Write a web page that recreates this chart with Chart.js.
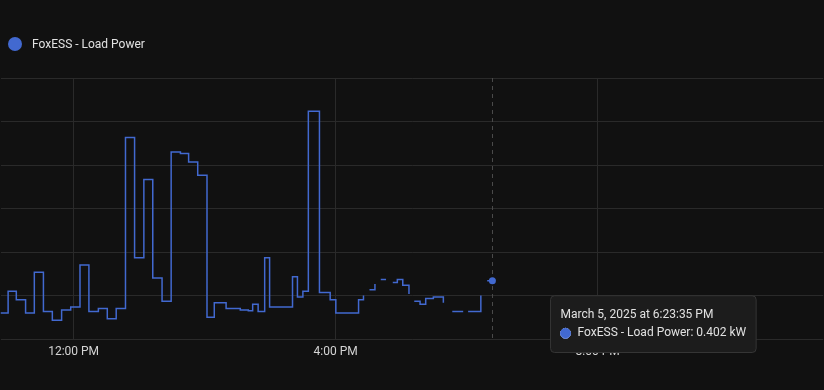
<!DOCTYPE html>
<html>
<head>
<meta charset="utf-8">
<title>FoxESS - Load Power</title>
<script src="https://cdn.jsdelivr.net/npm/chart.js@4.4.1/dist/chart.umd.min.js"></script>
<style>
    html, body { margin: 0; padding: 0; background: #111111; }
    body { width: 824px; height: 390px; overflow: hidden; position: relative; font-family: Roboto, sans-serif; }
    .chart-wrap { position: absolute; left: 0; top: 0; width: 824px; height: 390px; }
    .legend { position: absolute; left: 8px; top: 37px; height: 14px; display: flex; align-items: center;
              color: #e1e1e1; font-size: 12px; z-index: 2; }
    .legend .dot { width: 14px; height: 14px; border-radius: 50%; margin-right: 10px; }
</style>
</head>
<body>
<div class="chart-wrap"><canvas id="loadChart"></canvas></div>
<div class="legend"><span class="dot" id="legendDot"></span><span id="legendLabel"></span></div>
<script>
const seriesLabel = 'FoxESS - Load Power';
const seriesUnit = 'kW';
const dayLabel = 'March 5, 2025';
const lineColor = '#4269d0';

// sample times (local clock) and load power in kW, null = no data
const sampleTimes = [
    '10:50', '11:00', '11:07:30', '11:16', '11:24', '11:32:20', '11:40:30', '11:49', '11:57:20',
    '12:05:50', '12:14', '12:22:40', '12:30:50', '12:39', '12:47:30', '12:55:50', '13:04:20',
    '13:12:30', '13:21', '13:29:20', '13:37:50', '13:45:20', '13:53:40', '14:02:10', '14:08:50',
    '14:19:40', '14:32:40', '14:40', '14:44', '14:49', '14:55', '14:59:30', '15:20:30', '15:25',
    '15:30', '15:35', '15:45:10', '15:55', '16:00:10', '16:21', '16:25:30', '16:28', '16:31',
    '16:36', '16:39', '16:41:20', '16:46:10', '16:49', '16:52:20', '16:56:30', '17:01:30',
    '17:07:10', '17:10', '17:12', '17:17:20', '17:22:30', '17:29:30', '17:38:40', '17:42',
    '17:46:50', '17:56:50', '17:59', '18:01:20', '18:13', '18:16', '18:18:50', '18:23:35'
];
const loadValues = [
    0.18, 0.33, 0.27, 0.18, 0.46, 0.19, 0.13, 0.20, 0.22,
    0.51, 0.19, 0.21, 0.14, 0.21, 1.39, 0.56, 1.10,
    0.42, 0.26, 1.29, 1.28, 1.22, 1.13, 0.15, 0.25,
    0.21, 0.20, 0.195, 0.24, 0.19, 0.56, 0.22, 0.43, 0.29,
    0.33, 1.57, 0.32, 0.27, 0.18, 0.27, 0.30, null, 0.34,
    0.38, null, 0.41, 0.41, null, 0.39, 0.41, 0.37,
    0.31, null, 0.26, 0.24, 0.28, 0.29, 0.25, null,
    0.19, 0.19, null, 0.19, 0.30, null, 0.402, 0.402
];

const xTicks = [12, 16, 20];
const xTickLabels = ['12:00 PM', '4:00 PM', '8:00 PM'];
const yTicks = [0, 0.3, 0.6, 0.9, 1.2, 1.5, 1.8];

// visible window of the (cropped) history graph
const viewStart = '10:53:15';
const viewEnd = '23:26:38';
const hoverIndex = sampleTimes.length - 1;

function toHours(t) {
    const p = t.split(':').map(Number);
    return p[0] + p[1] / 60 + (p[2] || 0) / 3600;
}

function formatClock(hours) {
    const total = Math.round(hours * 3600);
    const h = Math.floor(total / 3600);
    const m = Math.floor((total % 3600) / 60);
    const s = total % 60;
    const h12 = h % 12 === 0 ? 12 : h % 12;
    return `${h12}:${String(m).padStart(2, '0')}:${String(s).padStart(2, '0')} ${h < 12 ? 'AM' : 'PM'}`;
}

document.getElementById('legendLabel').textContent = seriesLabel;
document.getElementById('legendDot').style.background = lineColor;

Chart.defaults.font.family = 'Roboto';
Chart.defaults.font.size = 12;
Chart.defaults.color = '#d4d4d4';

Chart.Tooltip.positioners.besidePoint = function(items) {
    if (!items.length) return false;
    const el = items[0].element;
    return { x: el.x + 62, y: el.y + 15 };
};

// dashed vertical pointer at the hovered sample
const hoverLine = {
    id: 'hoverLine',
    beforeDatasetsDraw(chart) {
        const active = chart.tooltip.getActiveElements();
        if (!active.length) return;
        const x = Math.round(active[0].element.x) + 0.5;
        const area = chart.chartArea;
        const ctx = chart.ctx;
        ctx.save();
        ctx.strokeStyle = '#4a4a4a';
        ctx.lineWidth = 1;
        ctx.setLineDash([4, 4]);
        ctx.beginPath();
        ctx.moveTo(x, area.top);
        ctx.lineTo(x, area.bottom);
        ctx.stroke();
        ctx.restore();
    }
};

const points = sampleTimes.map((t, i) => ({ x: toHours(t), y: loadValues[i] }));

const ctx = document.getElementById('loadChart').getContext('2d');
const loadChart = new Chart(ctx, {
    type: 'line',
    data: {
        datasets: [{
            label: seriesLabel,
            data: points,
            borderColor: lineColor,
            backgroundColor: lineColor,
            borderWidth: 1.5,
            stepped: 'before',
            tension: 0,
            pointRadius: 0,
            pointHoverRadius: 3.5,
            pointHoverBorderWidth: 0,
            pointHoverBackgroundColor: lineColor,
            spanGaps: false
        }]
    },
    options: {
        responsive: true,
        maintainAspectRatio: false,
        animation: false,
        events: [],
        layout: { padding: { top: 78, left: 0, right: 0, bottom: 24.6 } },
        plugins: {
            legend: { display: false },
            tooltip: {
                position: 'besidePoint',
                xAlign: 'left',
                yAlign: 'top',
                caretSize: 0,
                caretPadding: 0,
                backgroundColor: '#1c1c1c',
                borderColor: '#353535',
                borderWidth: 1,
                cornerRadius: 4,
                padding: { top: 12, bottom: 12, left: 10, right: 10 },
                titleFont: { size: 12, weight: 'normal' },
                bodyFont: { size: 12 },
                titleColor: '#e1e1e1',
                bodyColor: '#e1e1e1',
                titleMarginBottom: 4,
                usePointStyle: true,
                boxWidth: 10,
                boxHeight: 10,
                boxPadding: 5,
                callbacks: {
                    title: items => `${dayLabel} at ${formatClock(items[0].parsed.x)}`,
                    label: item => `${item.dataset.label}: ${item.parsed.y} ${seriesUnit}`
                }
            }
        },
        scales: {
            x: {
                type: 'linear',
                min: toHours(viewStart),
                max: toHours(viewEnd),
                afterBuildTicks: scale => { scale.ticks = xTicks.map(v => ({ value: v })); },
                ticks: {
                    padding: 6,
                    maxRotation: 0,
                    autoSkip: false,
                    callback: value => xTickLabels[xTicks.indexOf(value)]
                },
                grid: { color: '#2a2a2a', drawTicks: false },
                border: { display: false }
            },
            y: {
                min: 0,
                max: 1.8,
                afterBuildTicks: scale => { scale.ticks = yTicks.map(v => ({ value: v })); },
                ticks: { display: false },
                grid: { color: '#2a2a2a', drawTicks: false },
                border: { display: false }
            }
        }
    },
    plugins: [hoverLine]
});

const hovered = [{ datasetIndex: 0, index: hoverIndex }];
loadChart.tooltip.setActiveElements(hovered, { x: 0, y: 0 });
loadChart.setActiveElements(hovered);
loadChart.update();
</script>
</body>
</html>
